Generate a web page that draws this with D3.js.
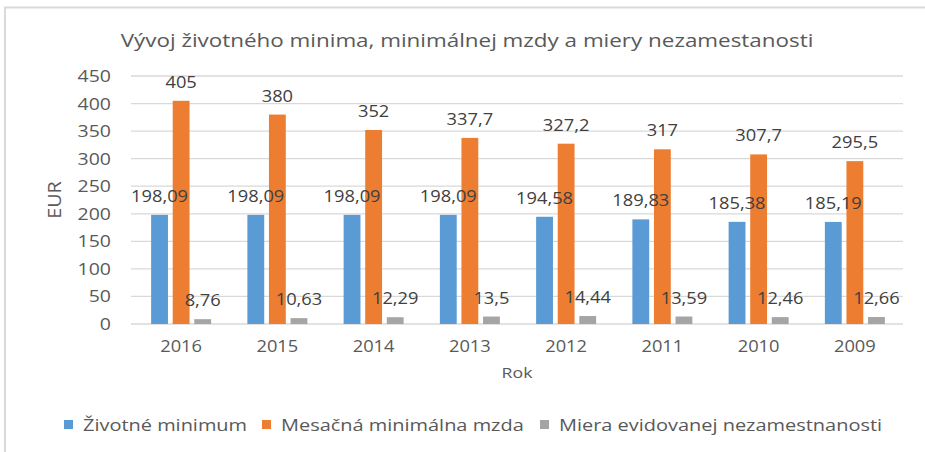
<!DOCTYPE html>
<html>
<head>
  <meta charset="utf-8">
  <script src="https://cdn.jsdelivr.net/npm/d3@7"></script>
  <style>
    body { margin: 0; background: #fff; }
    text { font-family: "Open Sans", sans-serif; fill: #595959; }
  </style>
</head>
<body>
<script>
  // chart data
  var years = ["2016", "2015", "2014", "2013", "2012", "2011", "2010", "2009"];
  var zivotneMinimum = [198.09, 198.09, 198.09, 198.09, 194.58, 189.83, 185.38, 185.19];
  var minimalnaMzda = [405, 380, 352, 337.7, 327.2, 317, 307.7, 295.5];
  var mieraNezam = [8.76, 10.63, 12.29, 13.5, 14.44, 13.59, 12.46, 12.66];
  var seriesNames = ["Životné minimum", "Mesačná minimálna mzda", "Miera evidovanej nezamestnanosti"];
  var yTicks = [0, 50, 100, 150, 200, 250, 300, 350, 400, 450];

  function draw() {
    "use strict";
    var colors = ["#5b9bd5", "#ed7d31", "#a5a5a5"];
    var series = [zivotneMinimum, minimalnaMzda, mieraNezam];

    var width = 925, height = 452;
    var plotLeft = 133, plotRight = 903, plotTop = 76, plotBottom = 324;
    var sx = 1.18; // the original text looks horizontally stretched

    var svg = d3.select("body").append("svg")
        .attr("width", width)
        .attr("height", height);

    // place a text at (px, py) with the horizontal stretch
    function place(sel, px, py, k) {
      sel.attr("transform", function (d, i) {
        var a = typeof px === "function" ? px(d, i) : px;
        var b = typeof py === "function" ? py(d, i) : py;
        return "translate(" + a + "," + b + ") scale(" + (k || sx) + ",1)";
      });
      return sel;
    }

    // outer frame (only left/top visible in the crop)
    svg.append("rect")
        .attr("x", 5).attr("y", 7.5)
        .attr("width", 960).attr("height", 480)
        .attr("fill", "none")
        .attr("stroke", "#d9d9d9")
        .attr("stroke-width", 2);

    var x = d3.scaleBand().domain(years).range([plotLeft, plotRight]);
    var x1 = d3.scaleBand().domain([0, 1, 2]).range([-30, 30]).paddingInner(0.22);
    var y = d3.scaleLinear().domain([0, 450]).range([plotBottom, plotTop]);
    var cx = function (d) { return x(d) + x.bandwidth() / 2; };

    // gridlines
    svg.append("g")
      .selectAll("line")
      .data(yTicks)
      .enter().append("line")
        .attr("x1", 131).attr("x2", plotRight)
        .attr("y1", function (d) { return y(d); })
        .attr("y2", function (d) { return y(d); })
        .attr("stroke", "#d9d9d9")
        .attr("stroke-width", 1.3);

    // y tick labels
    place(svg.append("g")
      .selectAll("text")
      .data(yTicks)
      .enter().append("text")
        .attr("text-anchor", "end")
        .style("font-size", "16.5px")
        .text(function (d) { return d; }),
      111, function (d) { return y(d) + 6; });

    // x tick labels
    place(svg.append("g")
      .selectAll("text")
      .data(years)
      .enter().append("text")
        .attr("text-anchor", "middle")
        .style("font-size", "15.5px")
        .text(function (d) { return d; }),
      function (d) { return cx(d); }, 352);

    var fmt = function (v) { return String(v).replace(".", ","); };

    // bars
    series.forEach(function (vals, si) {
      svg.append("g")
        .selectAll("rect")
        .data(vals)
        .enter().append("rect")
          .attr("x", function (d, i) { return cx(years[i]) + x1(si); })
          .attr("y", function (d) { return y(d); })
          .attr("width", x1.bandwidth())
          .attr("height", function (d) { return plotBottom - y(d); })
          .attr("fill", colors[si]);
    });

    // data labels
    series.forEach(function (vals, si) {
      place(svg.append("g")
        .selectAll("text")
        .data(vals)
        .enter().append("text")
          .attr("text-anchor", "middle")
          .style("font-size", "15.5px")
          .style("fill", "#404040")
          .text(fmt),
        function (d, i) { return cx(years[i]) + x1(si) + x1.bandwidth() / 2; },
        function (d) { return y(d) - 13; });
    });

    // title
    place(svg.append("text")
        .attr("text-anchor", "middle")
        .style("font-size", "19px")
        .text("Vývoj životného minima, minimálnej mzdy a miery nezamestanosti"),
      467, 47);

    // axis titles
    svg.append("text")
        .attr("transform", "translate(61,200) rotate(-90) scale(1.1,1)")
        .attr("text-anchor", "middle")
        .style("font-size", "18px")
        .text("EUR");

    place(svg.append("text")
        .attr("text-anchor", "middle")
        .style("font-size", "15px")
        .text("Rok"),
      517, 378);

    // legend
    var legendX = [64, 262, 540];
    var lg = svg.append("g");
    seriesNames.forEach(function (name, i) {
      lg.append("rect")
        .attr("x", legendX[i]).attr("y", 420)
        .attr("width", 9).attr("height", 9)
        .attr("fill", colors[i]);
      place(lg.append("text")
        .style("font-size", "16.5px")
        .text(name),
        legendX[i] + 19, 431, 1.21);
    });
  }

  draw();
</script>
</body>
</html>
